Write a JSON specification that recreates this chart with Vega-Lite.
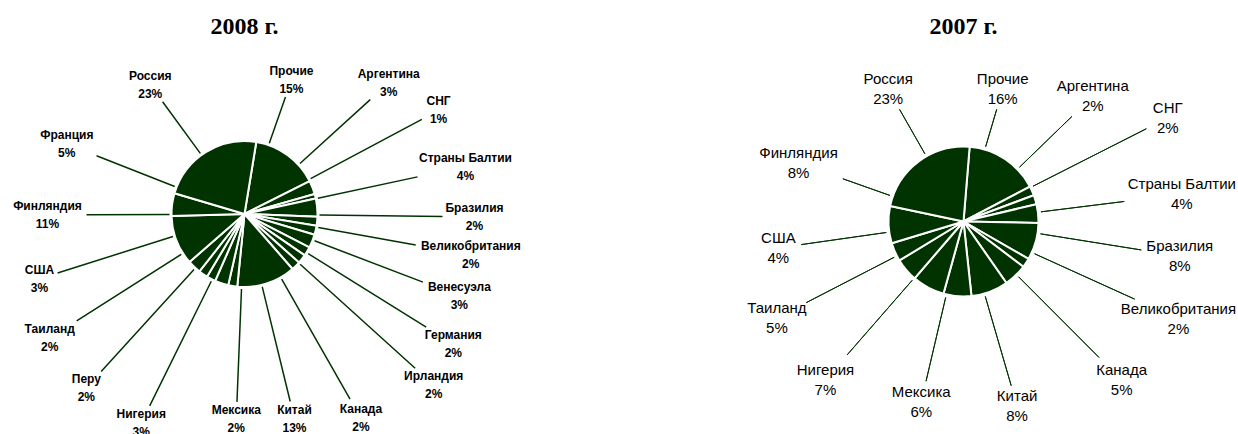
{
  "$schema": "https://vega.github.io/schema/vega-lite/v6.json",
  "background": "white",
  "padding": {"left": 0, "top": 15, "right": 0, "bottom": 0},
  "bounds": "flush",
  "spacing": 230,
  "datasets": {
    "y2008": [
      {"c": "Прочие", "v": 0.15, "i": 1},
      {"c": "Аргентина", "v": 0.03, "i": 2},
      {"c": "СНГ", "v": 0.01, "i": 3},
      {"c": "Страны Балтии", "v": 0.04, "i": 4},
      {"c": "Бразилия", "v": 0.02, "i": 5},
      {"c": "Великобритания", "v": 0.02, "i": 6},
      {"c": "Венесуэла", "v": 0.03, "i": 7},
      {"c": "Германия", "v": 0.02, "i": 8},
      {"c": "Ирландия", "v": 0.02, "i": 9},
      {"c": "Канада", "v": 0.02, "i": 10},
      {"c": "Китай", "v": 0.13, "i": 11},
      {"c": "Мексика", "v": 0.02, "i": 12},
      {"c": "Нигерия", "v": 0.03, "i": 13},
      {"c": "Перу", "v": 0.02, "i": 14},
      {"c": "Таиланд", "v": 0.02, "i": 15},
      {"c": "США", "v": 0.03, "i": 16},
      {"c": "Финляндия", "v": 0.11, "i": 17},
      {"c": "Франция", "v": 0.05, "i": 18},
      {"c": "Россия", "v": 0.23, "i": 19}
    ],
    "y2007": [
      {"c": "Прочие", "v": 0.16, "i": 1},
      {"c": "Аргентина", "v": 0.02, "i": 2},
      {"c": "СНГ", "v": 0.02, "i": 3},
      {"c": "Страны Балтии", "v": 0.04, "i": 4},
      {"c": "Бразилия", "v": 0.08, "i": 5},
      {"c": "Великобритания", "v": 0.02, "i": 6},
      {"c": "Канада", "v": 0.05, "i": 7},
      {"c": "Китай", "v": 0.08, "i": 8},
      {"c": "Мексика", "v": 0.06, "i": 9},
      {"c": "Нигерия", "v": 0.07, "i": 10},
      {"c": "Таиланд", "v": 0.05, "i": 11},
      {"c": "США", "v": 0.04, "i": 12},
      {"c": "Финляндия", "v": 0.08, "i": 13},
      {"c": "Россия", "v": 0.23, "i": 14}
    ]
  },
  "hconcat": [
    {
      "title": {"text": "2008 г.", "font": "Liberation Serif", "fontSize": 24, "fontWeight": "bold", "color": "#000000", "offset": 20},
      "width": 489,
      "height": 310,
      "data": {"name": "y2008"},
      "transform": [
        {"stack": "v", "groupby": [], "sort": [{"field": "i", "order": "ascending"}], "as": ["s0", "s1"]},
        {"fold": ["s0", "s1"], "as": ["k", "a"]},
        {"aggregate": [{"op": "mean", "field": "a", "as": "m"}, {"op": "min", "field": "a", "as": "a0"}, {"op": "max", "field": "a", "as": "a1"}], "groupby": ["c", "v", "i"]}
      ],
      "encoding": {"theta": {"field": "m", "type": "quantitative", "stack": null, "scale": {"domain": [0, 1], "range": [0.1623, 6.4455]}}},
      "layer": [
        {"mark": {"type": "arc", "innerRadius": 0, "outerRadius": 73, "fill": "#003300", "stroke": "#ffffff", "strokeWidth": 2},
         "encoding": {"theta": {"field": "a0", "type": "quantitative", "stack": null, "scale": {"domain": [0, 1], "range": [0.1623, 6.4455]}}, "theta2": {"field": "a1"}}},
        {"transform": [{"filter": {"field": "c", "oneOf": ["Россия"]}}], "layer": [
          {"mark": {"type": "arc", "style": "ld08", "innerRadius": 75, "outerRadius": 139, "thetaOffset": -0.0698, "theta2Offset": -0.0698}, "encoding": {"theta2": {"field": "m"}}},
          {"mark": {"type": "text", "style": "lab08", "radius": 160, "thetaOffset": -0.0698, "dy": -9}, "encoding": {"text": {"field": "c", "type": "nominal"}}},
          {"mark": {"type": "text", "style": "lab08", "radius": 160, "thetaOffset": -0.0698, "dy": 9}, "encoding": {"text": {"field": "v", "type": "quantitative", "format": ".0%"}}}
        ]},
        {"transform": [{"filter": {"field": "c", "oneOf": ["Прочие"]}}], "layer": [
          {"mark": {"type": "arc", "style": "ld08", "innerRadius": 75, "outerRadius": 124, "thetaOffset": -0.2967, "theta2Offset": -0.2967}, "encoding": {"theta2": {"field": "m"}}},
          {"mark": {"type": "text", "style": "lab08", "radius": 142, "thetaOffset": -0.2967, "dy": -9}, "encoding": {"text": {"field": "c", "type": "nominal"}}},
          {"mark": {"type": "text", "style": "lab08", "radius": 142, "thetaOffset": -0.2967, "dy": 9}, "encoding": {"text": {"field": "v", "type": "quantitative", "format": ".0%"}}}
        ]},
        {"transform": [{"filter": {"field": "c", "oneOf": ["Аргентина"]}}], "layer": [
          {"mark": {"type": "arc", "style": "ld08", "innerRadius": 75, "outerRadius": 170, "thetaOffset": -0.3665, "theta2Offset": -0.3665}, "encoding": {"theta2": {"field": "m"}}},
          {"mark": {"type": "text", "style": "lab08", "radius": 195, "thetaOffset": -0.3665, "dy": -9}, "encoding": {"text": {"field": "c", "type": "nominal"}}},
          {"mark": {"type": "text", "style": "lab08", "radius": 195, "thetaOffset": -0.3665, "dy": 9}, "encoding": {"text": {"field": "v", "type": "quantitative", "format": ".0%"}}}
        ]},
        {"transform": [{"filter": {"field": "c", "oneOf": ["СНГ"]}}], "layer": [
          {"mark": {"type": "arc", "style": "ld08", "innerRadius": 75, "outerRadius": 201, "thetaOffset": -0.2443, "theta2Offset": -0.2443}, "encoding": {"theta2": {"field": "m"}}},
          {"mark": {"type": "text", "style": "lab08", "radius": 220, "thetaOffset": -0.2443, "dy": -9}, "encoding": {"text": {"field": "c", "type": "nominal"}}},
          {"mark": {"type": "text", "style": "lab08", "radius": 220, "thetaOffset": -0.2443, "dy": 9}, "encoding": {"text": {"field": "v", "type": "quantitative", "format": ".0%"}}}
        ]},
        {"transform": [{"filter": {"field": "c", "oneOf": ["Страны Балтии"]}}], "layer": [
          {"mark": {"type": "arc", "style": "ld08", "innerRadius": 75, "outerRadius": 177, "thetaOffset": -0.1222, "theta2Offset": -0.1222}, "encoding": {"theta2": {"field": "m"}}},
          {"mark": {"type": "text", "style": "lab08", "radius": 226, "thetaOffset": -0.1222, "dy": -9}, "encoding": {"text": {"field": "c", "type": "nominal"}}},
          {"mark": {"type": "text", "style": "lab08", "radius": 226, "thetaOffset": -0.1222, "dy": 9}, "encoding": {"text": {"field": "v", "type": "quantitative", "format": ".0%"}}}
        ]},
        {"transform": [{"filter": {"field": "c", "oneOf": ["Бразилия"]}}], "layer": [
          {"mark": {"type": "arc", "style": "ld08", "innerRadius": 75, "outerRadius": 198, "thetaOffset": -0.0873, "theta2Offset": -0.0873}, "encoding": {"theta2": {"field": "m"}}},
          {"mark": {"type": "text", "style": "lab08", "radius": 230, "thetaOffset": -0.0873, "dy": -9}, "encoding": {"text": {"field": "c", "type": "nominal"}}},
          {"mark": {"type": "text", "style": "lab08", "radius": 230, "thetaOffset": -0.0873, "dy": 9}, "encoding": {"text": {"field": "v", "type": "quantitative", "format": ".0%"}}}
        ]},
        {"transform": [{"filter": {"field": "c", "oneOf": ["Великобритания"]}}], "layer": [
          {"mark": {"type": "arc", "style": "ld08", "innerRadius": 75, "outerRadius": 174, "thetaOffset": -0.0454, "theta2Offset": -0.0454}, "encoding": {"theta2": {"field": "m"}}},
          {"mark": {"type": "text", "style": "lab08", "radius": 230, "thetaOffset": -0.0454, "dy": -9}, "encoding": {"text": {"field": "c", "type": "nominal"}}},
          {"mark": {"type": "text", "style": "lab08", "radius": 230, "thetaOffset": -0.0454, "dy": 9}, "encoding": {"text": {"field": "v", "type": "quantitative", "format": ".0%"}}}
        ]},
        {"transform": [{"filter": {"field": "c", "oneOf": ["Венесуэла"]}}], "layer": [
          {"mark": {"type": "arc", "style": "ld08", "innerRadius": 75, "outerRadius": 191, "thetaOffset": -0.0175, "theta2Offset": -0.0175}, "encoding": {"theta2": {"field": "m"}}},
          {"mark": {"type": "text", "style": "lab08", "radius": 230, "thetaOffset": -0.0175, "dy": -9}, "encoding": {"text": {"field": "c", "type": "nominal"}}},
          {"mark": {"type": "text", "style": "lab08", "radius": 230, "thetaOffset": -0.0175, "dy": 9}, "encoding": {"text": {"field": "v", "type": "quantitative", "format": ".0%"}}}
        ]},
        {"transform": [{"filter": {"field": "c", "oneOf": ["Германия"]}}], "layer": [
          {"mark": {"type": "arc", "style": "ld08", "innerRadius": 75, "outerRadius": 214, "thetaOffset": 0.0175, "theta2Offset": 0.0175}, "encoding": {"theta2": {"field": "m"}}},
          {"mark": {"type": "text", "style": "lab08", "radius": 246, "thetaOffset": 0.0175, "dy": -9}, "encoding": {"text": {"field": "c", "type": "nominal"}}},
          {"mark": {"type": "text", "style": "lab08", "radius": 246, "thetaOffset": 0.0175, "dy": 9}, "encoding": {"text": {"field": "v", "type": "quantitative", "format": ".0%"}}}
        ]},
        {"transform": [{"filter": {"field": "c", "oneOf": ["Ирландия"]}}], "layer": [
          {"mark": {"type": "arc", "style": "ld08", "innerRadius": 75, "outerRadius": 230, "thetaOffset": 0.0698, "theta2Offset": 0.0698}, "encoding": {"theta2": {"field": "m"}}},
          {"mark": {"type": "text", "style": "lab08", "radius": 255, "thetaOffset": 0.0698, "dy": -9}, "encoding": {"text": {"field": "c", "type": "nominal"}}},
          {"mark": {"type": "text", "style": "lab08", "radius": 255, "thetaOffset": 0.0698, "dy": 9}, "encoding": {"text": {"field": "v", "type": "quantitative", "format": ".0%"}}}
        ]},
        {"transform": [{"filter": {"field": "c", "oneOf": ["Канада", "Перу"]}}], "layer": [
          {"mark": {"type": "arc", "style": "ld08", "innerRadius": 75, "outerRadius": 213, "thetaOffset": 0.2618, "theta2Offset": 0.2618}, "encoding": {"theta2": {"field": "m"}}},
          {"mark": {"type": "text", "style": "lab08", "radius": 235, "thetaOffset": 0.2618, "dy": -9}, "encoding": {"text": {"field": "c", "type": "nominal"}}},
          {"mark": {"type": "text", "style": "lab08", "radius": 235, "thetaOffset": 0.2618, "dy": 9}, "encoding": {"text": {"field": "v", "type": "quantitative", "format": ".0%"}}}
        ]},
        {"transform": [{"filter": {"field": "c", "oneOf": ["Китай"]}}], "layer": [
          {"mark": {"type": "arc", "style": "ld08", "innerRadius": 75, "outerRadius": 193, "thetaOffset": 0.0698, "theta2Offset": 0.0698}, "encoding": {"theta2": {"field": "m"}}},
          {"mark": {"type": "text", "style": "lab08", "radius": 211, "thetaOffset": 0.0698, "dy": -9}, "encoding": {"text": {"field": "c", "type": "nominal"}}},
          {"mark": {"type": "text", "style": "lab08", "radius": 211, "thetaOffset": 0.0698, "dy": 9}, "encoding": {"text": {"field": "v", "type": "quantitative", "format": ".0%"}}}
        ]},
        {"transform": [{"filter": {"field": "c", "oneOf": ["Мексика"]}}], "layer": [
          {"mark": {"type": "arc", "style": "ld08", "innerRadius": 75, "outerRadius": 188, "thetaOffset": -0.1222, "theta2Offset": -0.1222}, "encoding": {"theta2": {"field": "m"}}},
          {"mark": {"type": "text", "style": "lab08", "radius": 205, "thetaOffset": -0.1222, "dy": -9}, "encoding": {"text": {"field": "c", "type": "nominal"}}},
          {"mark": {"type": "text", "style": "lab08", "radius": 205, "thetaOffset": -0.1222, "dy": 9}, "encoding": {"text": {"field": "v", "type": "quantitative", "format": ".0%"}}}
        ]},
        {"transform": [{"filter": {"field": "c", "oneOf": ["Нигерия"]}}], "layer": [
          {"mark": {"type": "arc", "style": "ld08", "innerRadius": 75, "outerRadius": 214, "thetaOffset": 0.1396, "theta2Offset": 0.1396}, "encoding": {"theta2": {"field": "m"}}},
          {"mark": {"type": "text", "style": "lab08", "radius": 233, "thetaOffset": 0.1396, "dy": -9}, "encoding": {"text": {"field": "c", "type": "nominal"}}},
          {"mark": {"type": "text", "style": "lab08", "radius": 233, "thetaOffset": 0.1396, "dy": 9}, "encoding": {"text": {"field": "v", "type": "quantitative", "format": ".0%"}}}
        ]},
        {"transform": [{"filter": {"field": "c", "oneOf": ["Таиланд"]}}], "layer": [
          {"mark": {"type": "arc", "style": "ld08", "innerRadius": 75, "outerRadius": 199, "thetaOffset": 0.4014, "theta2Offset": 0.4014}, "encoding": {"theta2": {"field": "m"}}},
          {"mark": {"type": "text", "style": "lab08", "radius": 231, "thetaOffset": 0.4014, "dy": -9}, "encoding": {"text": {"field": "c", "type": "nominal"}}},
          {"mark": {"type": "text", "style": "lab08", "radius": 231, "thetaOffset": 0.4014, "dy": 9}, "encoding": {"text": {"field": "v", "type": "quantitative", "format": ".0%"}}}
        ]},
        {"transform": [{"filter": {"field": "c", "oneOf": ["США"]}}], "layer": [
          {"mark": {"type": "arc", "style": "ld08", "innerRadius": 75, "outerRadius": 196, "thetaOffset": 0.5061, "theta2Offset": 0.5061}, "encoding": {"theta2": {"field": "m"}}},
          {"mark": {"type": "text", "style": "lab08", "radius": 215, "thetaOffset": 0.5061, "dy": -9}, "encoding": {"text": {"field": "c", "type": "nominal"}}},
          {"mark": {"type": "text", "style": "lab08", "radius": 215, "thetaOffset": 0.5061, "dy": 9}, "encoding": {"text": {"field": "v", "type": "quantitative", "format": ".0%"}}}
        ]},
        {"transform": [{"filter": {"field": "c", "oneOf": ["Финляндия"]}}], "layer": [
          {"mark": {"type": "arc", "style": "ld08", "innerRadius": 75, "outerRadius": 158, "thetaOffset": 0.3665, "theta2Offset": 0.3665}, "encoding": {"theta2": {"field": "m"}}},
          {"mark": {"type": "text", "style": "lab08", "radius": 197, "thetaOffset": 0.3665, "dy": -9}, "encoding": {"text": {"field": "c", "type": "nominal"}}},
          {"mark": {"type": "text", "style": "lab08", "radius": 197, "thetaOffset": 0.3665, "dy": 9}, "encoding": {"text": {"field": "v", "type": "quantitative", "format": ".0%"}}}
        ]},
        {"transform": [{"filter": {"field": "c", "oneOf": ["Франция"]}}], "layer": [
          {"mark": {"type": "arc", "style": "ld08", "innerRadius": 75, "outerRadius": 159, "thetaOffset": 0.2443, "theta2Offset": 0.2443}, "encoding": {"theta2": {"field": "m"}}},
          {"mark": {"type": "text", "style": "lab08", "radius": 191, "thetaOffset": 0.2443, "dy": -9}, "encoding": {"text": {"field": "c", "type": "nominal"}}},
          {"mark": {"type": "text", "style": "lab08", "radius": 191, "thetaOffset": 0.2443, "dy": 9}, "encoding": {"text": {"field": "v", "type": "quantitative", "format": ".0%"}}}
        ]}
      ]
    },
    {
      "title": {"text": "2007 г.", "font": "Liberation Serif", "fontSize": 24, "fontWeight": "bold", "color": "#000000", "offset": 20},
      "width": 489,
      "height": 325,
      "data": {"name": "y2007"},
      "transform": [
        {"stack": "v", "groupby": [], "sort": [{"field": "i", "order": "ascending"}], "as": ["s0", "s1"]},
        {"fold": ["s0", "s1"], "as": ["k", "a"]},
        {"aggregate": [{"op": "mean", "field": "a", "as": "m"}, {"op": "min", "field": "a", "as": "a0"}, {"op": "max", "field": "a", "as": "a1"}], "groupby": ["c", "v", "i"]}
      ],
      "encoding": {"theta": {"field": "m", "type": "quantitative", "stack": null, "scale": {"domain": [0, 1], "range": [0.082, 6.3652]}}},
      "layer": [
        {"mark": {"type": "arc", "innerRadius": 0, "outerRadius": 75, "fill": "#003300", "stroke": "#ffffff", "strokeWidth": 2},
         "encoding": {"theta": {"field": "a0", "type": "quantitative", "stack": null, "scale": {"domain": [0, 1], "range": [0.082, 6.3652]}}, "theta2": {"field": "a1"}}},
        {"transform": [{"filter": {"field": "c", "oneOf": ["Россия"]}}], "layer": [
          {"mark": {"type": "arc", "style": "ld07", "innerRadius": 78, "outerRadius": 129, "thetaOffset": 0.1222, "theta2Offset": 0.1222}, "encoding": {"theta2": {"field": "m"}}},
          {"mark": {"type": "text", "style": "lab07", "radius": 152, "thetaOffset": 0.1222, "dy": -10}, "encoding": {"text": {"field": "c", "type": "nominal"}}},
          {"mark": {"type": "text", "style": "lab07", "radius": 152, "thetaOffset": 0.1222, "dy": 10}, "encoding": {"text": {"field": "v", "type": "quantitative", "format": ".0%"}}}
        ]},
        {"transform": [{"filter": {"field": "c", "oneOf": ["Прочие"]}}], "layer": [
          {"mark": {"type": "arc", "style": "ld07", "innerRadius": 78, "outerRadius": 117, "thetaOffset": -0.2967, "theta2Offset": -0.2967}, "encoding": {"theta2": {"field": "m"}}},
          {"mark": {"type": "text", "style": "lab07", "radius": 138, "thetaOffset": -0.2967, "dy": -10}, "encoding": {"text": {"field": "c", "type": "nominal"}}},
          {"mark": {"type": "text", "style": "lab07", "radius": 138, "thetaOffset": -0.2967, "dy": 10}, "encoding": {"text": {"field": "v", "type": "quantitative", "format": ".0%"}}}
        ]},
        {"transform": [{"filter": {"field": "c", "oneOf": ["Аргентина"]}}], "layer": [
          {"mark": {"type": "arc", "style": "ld07", "innerRadius": 78, "outerRadius": 151, "thetaOffset": -0.3491, "theta2Offset": -0.3491}, "encoding": {"theta2": {"field": "m"}}},
          {"mark": {"type": "text", "style": "lab07", "radius": 180, "thetaOffset": -0.3491, "dy": -10}, "encoding": {"text": {"field": "c", "type": "nominal"}}},
          {"mark": {"type": "text", "style": "lab07", "radius": 180, "thetaOffset": -0.3491, "dy": 10}, "encoding": {"text": {"field": "v", "type": "quantitative", "format": ".0%"}}}
        ]},
        {"transform": [{"filter": {"field": "c", "oneOf": ["СНГ"]}}], "layer": [
          {"mark": {"type": "arc", "style": "ld07", "innerRadius": 78, "outerRadius": 205, "thetaOffset": -0.1745, "theta2Offset": -0.1745}, "encoding": {"theta2": {"field": "m"}}},
          {"mark": {"type": "text", "style": "lab07", "radius": 229, "thetaOffset": -0.1745, "dy": -10}, "encoding": {"text": {"field": "c", "type": "nominal"}}},
          {"mark": {"type": "text", "style": "lab07", "radius": 229, "thetaOffset": -0.1745, "dy": 10}, "encoding": {"text": {"field": "v", "type": "quantitative", "format": ".0%"}}}
        ]},
        {"transform": [{"filter": {"field": "c", "oneOf": ["Страны Балтии"]}}], "layer": [
          {"mark": {"type": "arc", "style": "ld07", "innerRadius": 78, "outerRadius": 162, "thetaOffset": -0.0175, "theta2Offset": -0.0175}, "encoding": {"theta2": {"field": "m"}}},
          {"mark": {"type": "text", "style": "lab07", "radius": 220, "thetaOffset": -0.0175, "dy": -10}, "encoding": {"text": {"field": "c", "type": "nominal"}}},
          {"mark": {"type": "text", "style": "lab07", "radius": 220, "thetaOffset": -0.0175, "dy": 10}, "encoding": {"text": {"field": "v", "type": "quantitative", "format": ".0%"}}}
        ]},
        {"transform": [{"filter": {"field": "c", "oneOf": ["Канада"]}}], "layer": [
          {"mark": {"type": "arc", "style": "ld07", "innerRadius": 78, "outerRadius": 192, "thetaOffset": -0.0175, "theta2Offset": -0.0175}, "encoding": {"theta2": {"field": "m"}}},
          {"mark": {"type": "text", "style": "lab07", "radius": 224, "thetaOffset": -0.0175, "dy": -10}, "encoding": {"text": {"field": "c", "type": "nominal"}}},
          {"mark": {"type": "text", "style": "lab07", "radius": 224, "thetaOffset": -0.0175, "dy": 10}, "encoding": {"text": {"field": "v", "type": "quantitative", "format": ".0%"}}}
        ]},
        {"transform": [{"filter": {"field": "c", "oneOf": ["Бразилия"]}}], "layer": [
          {"mark": {"type": "arc", "style": "ld07", "innerRadius": 78, "outerRadius": 180, "thetaOffset": -0.1117, "theta2Offset": -0.1117}, "encoding": {"theta2": {"field": "m"}}},
          {"mark": {"type": "text", "style": "lab07", "radius": 219, "thetaOffset": -0.1117, "dy": -10}, "encoding": {"text": {"field": "c", "type": "nominal"}}},
          {"mark": {"type": "text", "style": "lab07", "radius": 219, "thetaOffset": -0.1117, "dy": 10}, "encoding": {"text": {"field": "v", "type": "quantitative", "format": ".0%"}}}
        ]},
        {"transform": [{"filter": {"field": "c", "oneOf": ["Великобритания"]}}], "layer": [
          {"mark": {"type": "arc", "style": "ld07", "innerRadius": 78, "outerRadius": 188, "thetaOffset": -0.1588, "theta2Offset": -0.1588}, "encoding": {"theta2": {"field": "m"}}},
          {"mark": {"type": "text", "style": "lab07", "radius": 236, "thetaOffset": -0.1588, "dy": -10}, "encoding": {"text": {"field": "c", "type": "nominal"}}},
          {"mark": {"type": "text", "style": "lab07", "radius": 236, "thetaOffset": -0.1588, "dy": 10}, "encoding": {"text": {"field": "v", "type": "quantitative", "format": ".0%"}}}
        ]},
        {"transform": [{"filter": {"field": "c", "oneOf": ["Китай"]}}], "layer": [
          {"mark": {"type": "arc", "style": "ld07", "innerRadius": 78, "outerRadius": 171, "thetaOffset": 0.075, "theta2Offset": 0.075}, "encoding": {"theta2": {"field": "m"}}},
          {"mark": {"type": "text", "style": "lab07", "radius": 192, "thetaOffset": 0.075, "dy": -10}, "encoding": {"text": {"field": "c", "type": "nominal"}}},
          {"mark": {"type": "text", "style": "lab07", "radius": 192, "thetaOffset": 0.075, "dy": 10}, "encoding": {"text": {"field": "v", "type": "quantitative", "format": ".0%"}}}
        ]},
        {"transform": [{"filter": {"field": "c", "oneOf": ["Мексика"]}}], "layer": [
          {"mark": {"type": "arc", "style": "ld07", "innerRadius": 78, "outerRadius": 164, "thetaOffset": 0.1484, "theta2Offset": 0.1484}, "encoding": {"theta2": {"field": "m"}}},
          {"mark": {"type": "text", "style": "lab07", "radius": 185, "thetaOffset": 0.1484, "dy": -10}, "encoding": {"text": {"field": "c", "type": "nominal"}}},
          {"mark": {"type": "text", "style": "lab07", "radius": 185, "thetaOffset": 0.1484, "dy": 10}, "encoding": {"text": {"field": "v", "type": "quantitative", "format": ".0%"}}}
        ]},
        {"transform": [{"filter": {"field": "c", "oneOf": ["Нигерия", "Таиланд"]}}], "layer": [
          {"mark": {"type": "arc", "style": "ld07", "innerRadius": 78, "outerRadius": 177, "thetaOffset": 0.2269, "theta2Offset": 0.2269}, "encoding": {"theta2": {"field": "m"}}},
          {"mark": {"type": "text", "style": "lab07", "radius": 210, "thetaOffset": 0.2269, "dy": -10}, "encoding": {"text": {"field": "c", "type": "nominal"}}},
          {"mark": {"type": "text", "style": "lab07", "radius": 210, "thetaOffset": 0.2269, "dy": 10}, "encoding": {"text": {"field": "v", "type": "quantitative", "format": ".0%"}}}
        ]},
        {"transform": [{"filter": {"field": "c", "oneOf": ["США"]}}], "layer": [
          {"mark": {"type": "arc", "style": "ld07", "innerRadius": 78, "outerRadius": 164, "thetaOffset": 0.2793, "theta2Offset": 0.2793}, "encoding": {"theta2": {"field": "m"}}},
          {"mark": {"type": "text", "style": "lab07", "radius": 187, "thetaOffset": 0.2793, "dy": -10}, "encoding": {"text": {"field": "c", "type": "nominal"}}},
          {"mark": {"type": "text", "style": "lab07", "radius": 187, "thetaOffset": 0.2793, "dy": 10}, "encoding": {"text": {"field": "v", "type": "quantitative", "format": ".0%"}}}
        ]},
        {"transform": [{"filter": {"field": "c", "oneOf": ["Финляндия"]}}], "layer": [
          {"mark": {"type": "arc", "style": "ld07", "innerRadius": 78, "outerRadius": 128, "thetaOffset": 0.384, "theta2Offset": 0.384}, "encoding": {"theta2": {"field": "m"}}},
          {"mark": {"type": "text", "style": "lab07", "radius": 175, "thetaOffset": 0.384, "dy": -10}, "encoding": {"text": {"field": "c", "type": "nominal"}}},
          {"mark": {"type": "text", "style": "lab07", "radius": 175, "thetaOffset": 0.384, "dy": 10}, "encoding": {"text": {"field": "v", "type": "quantitative", "format": ".0%"}}}
        ]}
      ]
    }
  ],
  "config": {
    "view": {"stroke": null},
    "text": {"font": "Liberation Sans", "color": "#000000", "align": "center", "baseline": "middle"},
    "style": {
      "lab08": {"fontSize": 12, "fontWeight": "bold"},
      "lab07": {"fontSize": 15, "fontWeight": "normal"},
      "ld08": {"fill": "transparent", "stroke": "#003300", "strokeWidth": 1.5},
      "ld07": {"fill": "transparent", "stroke": "#003300", "strokeWidth": 1}
    }
  }
}
